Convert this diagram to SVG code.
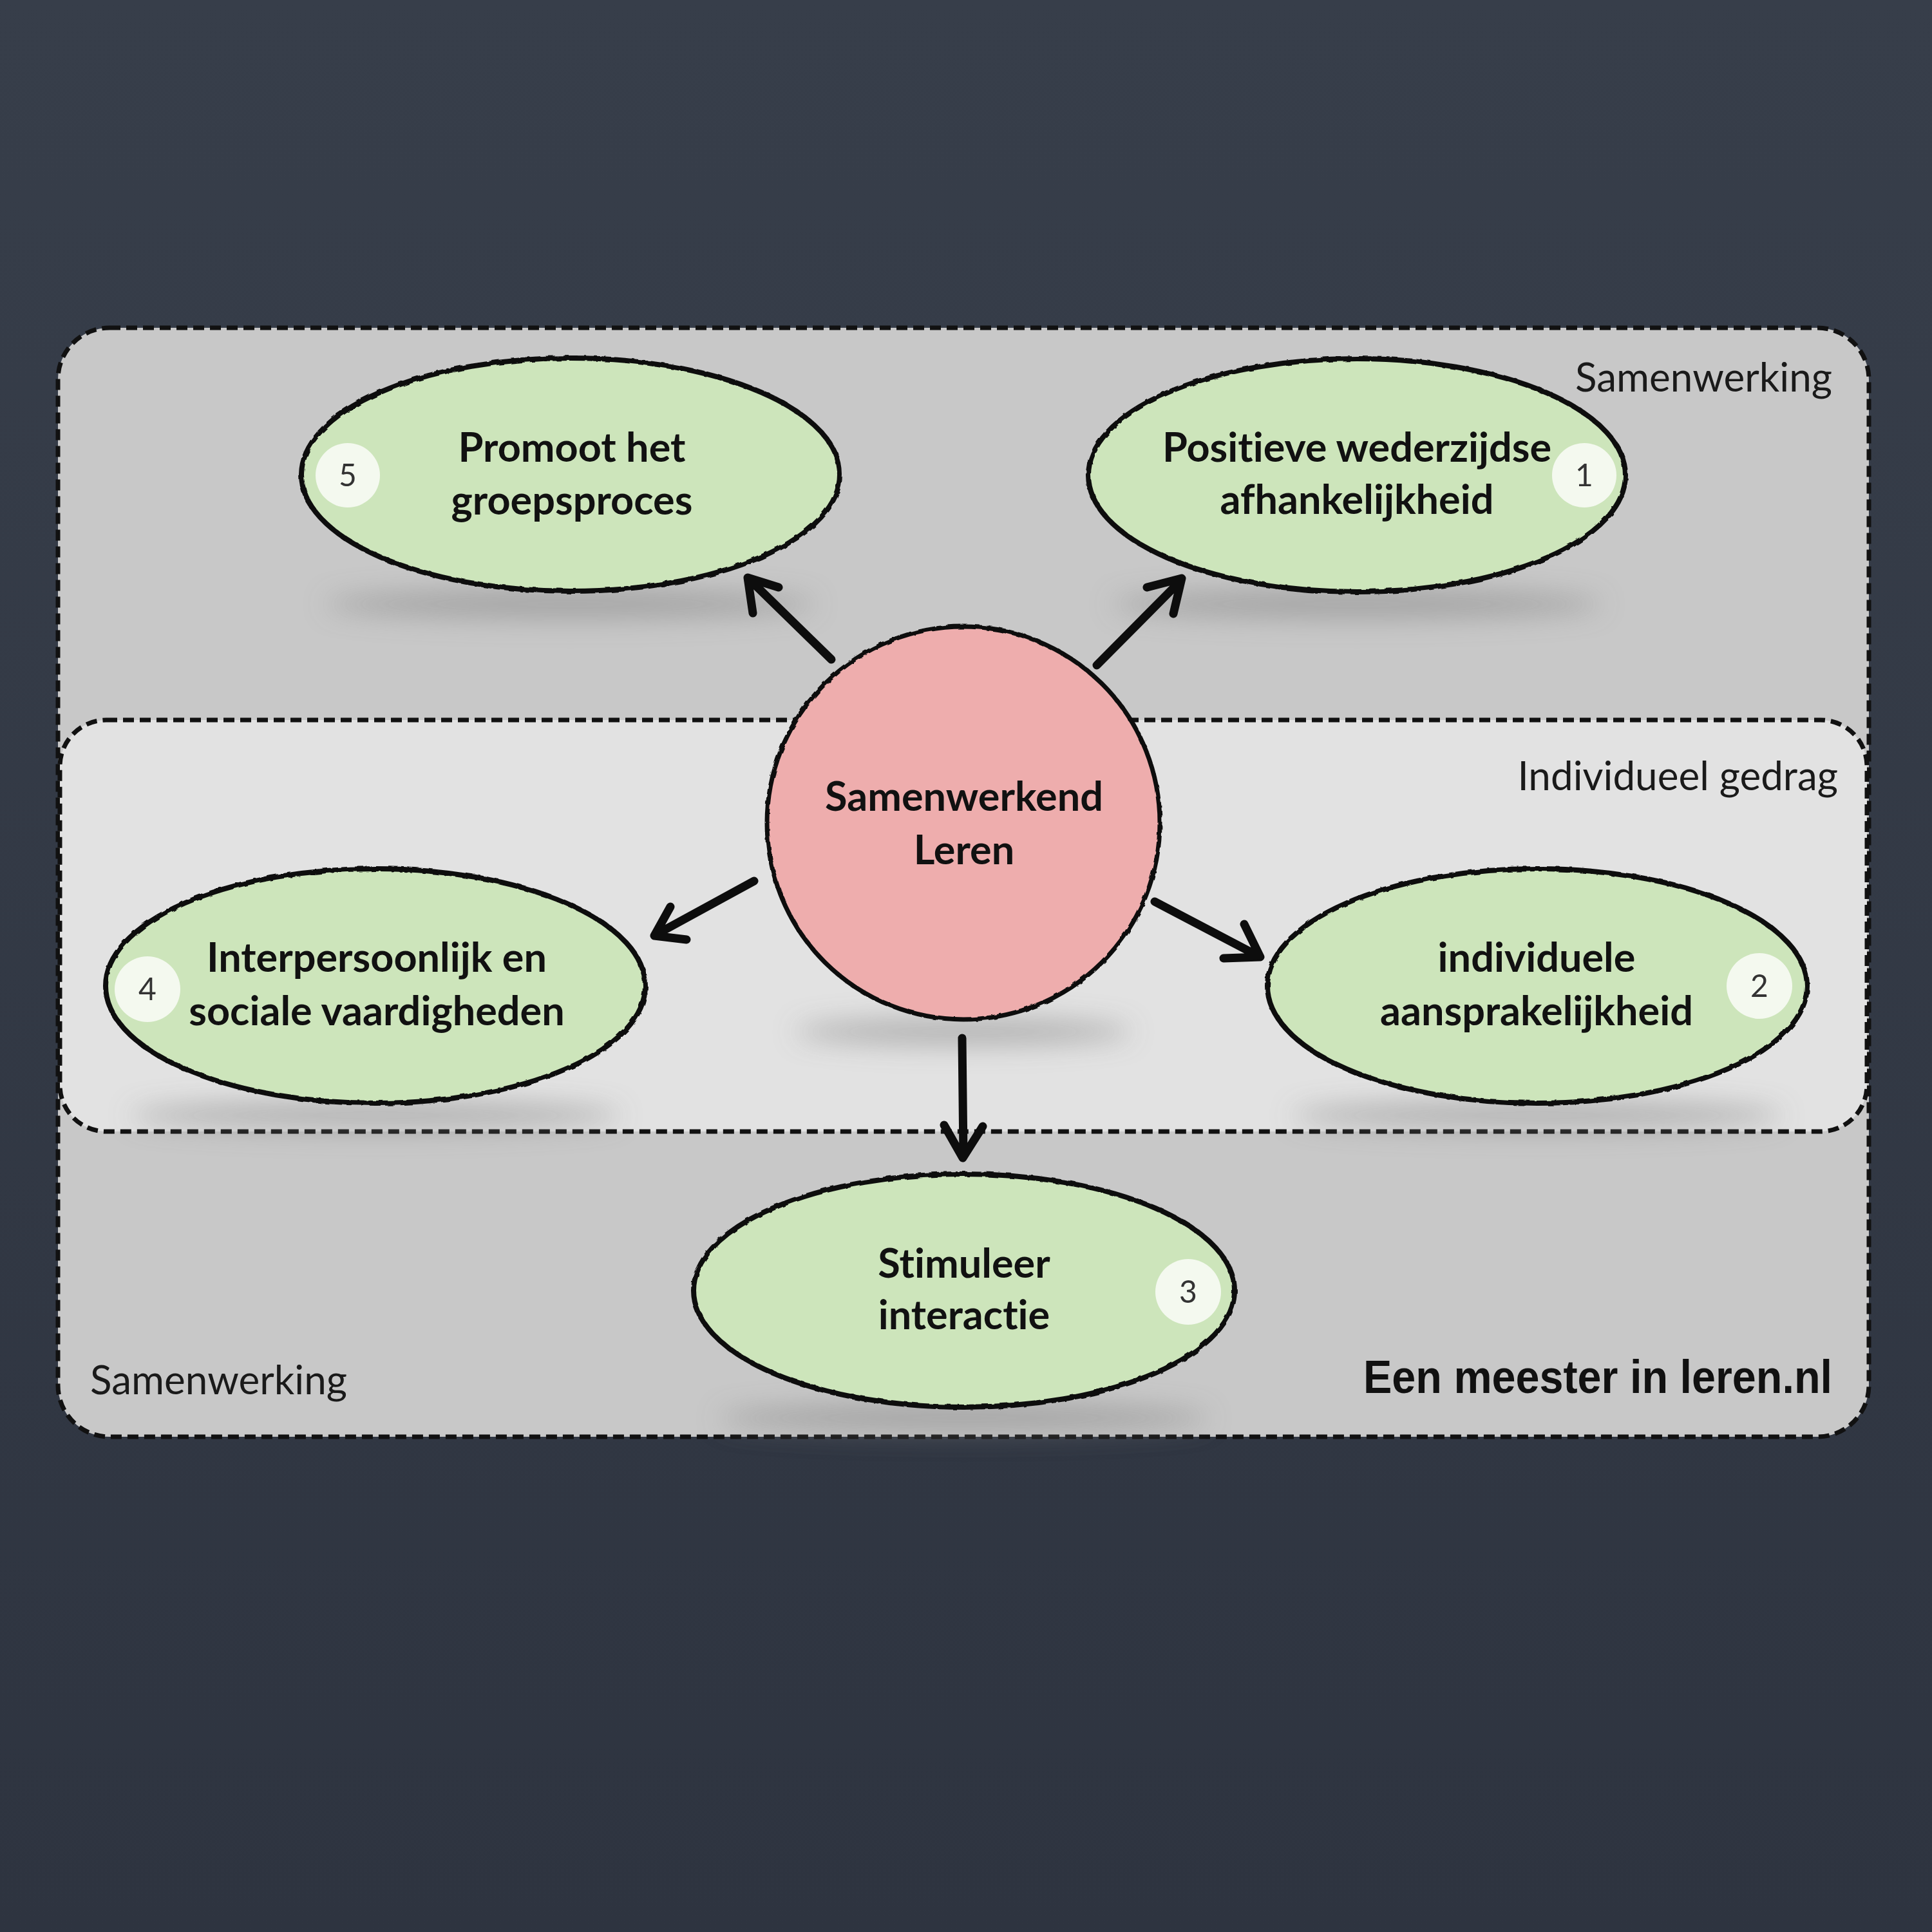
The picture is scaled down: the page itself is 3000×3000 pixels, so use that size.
<svg xmlns="http://www.w3.org/2000/svg" width="3000" height="3000" viewBox="0 0 3000 3000">
<defs>
<linearGradient id="bg" x1="0" y1="0" x2="0" y2="1">
<stop offset="0" stop-color="#373e4a"/>
<stop offset="1" stop-color="#2e3440"/>
</linearGradient>
<filter id="blur" x="-50%" y="-300%" width="200%" height="700%">
<feGaussianBlur stdDeviation="20"/>
</filter>
<filter id="rough" x="-5%" y="-5%" width="110%" height="110%">
<feTurbulence type="fractalNoise" baseFrequency="0.08" numOctaves="2" seed="3" result="n"/>
<feDisplacementMap in="SourceGraphic" in2="n" scale="4"/>
</filter>
<style>
text{font-variant-ligatures:none;font-feature-settings:"liga" 0,"dlig" 0}
.panel{stroke:#111;stroke-width:7;stroke-dasharray:17 9}
.node{fill:#cde5bb;stroke:#111;stroke-width:8}
.center{fill:#eeadad;stroke:#111;stroke-width:7}
.shadow{fill:#808080;opacity:0.5}
.badge{fill:#f4f9ef}
.num{font-family:Lato,"Noto Sans",sans-serif;font-size:48px;fill:#333;text-anchor:middle}
.lbl{font-family:Lato,"Noto Sans",sans-serif;font-weight:700;font-size:63px;fill:#111;text-anchor:middle}
.area{font-family:Lato,"Noto Sans",sans-serif;font-size:62px;fill:#1a1a1a}
.brand{font-family:"Liberation Sans",sans-serif;font-weight:700;font-size:72px;fill:#111}
.conn{fill:none;stroke:#0d0d0d;stroke-width:13;stroke-linecap:round;stroke-linejoin:round}
</style>
</defs>
<rect width="3000" height="3000" fill="url(#bg)"/>
<g id="panel-samenwerking">
<rect class="panel" x="90" y="509" width="2812" height="1722" rx="80" ry="80" fill="#c8c8c8"/>
</g>
<g id="panel-individueel">
<rect class="panel" x="93" y="1118" width="2806" height="639" rx="72" ry="72" fill="#e2e2e2"/>
</g>
<g id="shadows" filter="url(#blur)">
<ellipse class="shadow" cx="886" cy="938" rx="380" ry="22"/>
<ellipse class="shadow" cx="2107" cy="938" rx="380" ry="22"/>
<ellipse class="shadow" cx="583" cy="1732" rx="380" ry="22"/>
<ellipse class="shadow" cx="2387" cy="1732" rx="380" ry="22"/>
<ellipse class="shadow" cx="1497" cy="2202" rx="380" ry="22"/>
<ellipse class="shadow" cx="1496" cy="1602" rx="260" ry="20"/>
</g>
<g id="connectors">
<path class="conn" d="M1291,1024 L1163,899 M1209,912 L1161,897 L1169,952"/>
<path class="conn" d="M1703,1033 L1830,905 M1781,912 L1835,898 L1822,953"/>
<path class="conn" d="M1171,1368 L1019,1451 M1041,1408 L1016,1453 L1066,1459"/>
<path class="conn" d="M1793,1400 L1953,1484 M1932,1435 L1957,1486 L1900,1488"/>
<path class="conn" d="M1494,1612 L1496,1795 M1466,1747 L1495,1798 L1526,1749"/>
</g>
<g id="node-5">
<ellipse class="node" cx="886" cy="737" rx="418" ry="181" filter="url(#rough)"/>
<circle class="badge" cx="540" cy="738" r="50"/>
<text class="num" x="540" y="755">5</text>
<text class="lbl" x="888" y="717">Promoot het</text>
<text class="lbl" x="888" y="799">groepsproces</text>
</g>
<g id="node-1">
<ellipse class="node" cx="2107" cy="738" rx="417" ry="181" filter="url(#rough)"/>
<circle class="badge" cx="2460" cy="738" r="50"/>
<text class="num" x="2460" y="755">1</text>
<text class="lbl" x="2107" y="717">Positieve wederzijdse</text>
<text class="lbl" x="2107" y="798">afhankelijkheid</text>
</g>
<g id="node-4">
<ellipse class="node" cx="583" cy="1531" rx="419" ry="182" filter="url(#rough)"/>
<circle class="badge" cx="229" cy="1536" r="51"/>
<text class="num" x="229" y="1553">4</text>
<text class="lbl" x="585" y="1509">Interpersoonlijk en</text>
<text class="lbl" x="585" y="1592">sociale vaardigheden</text>
</g>
<g id="node-2">
<ellipse class="node" cx="2387" cy="1531" rx="419" ry="182" filter="url(#rough)"/>
<circle class="badge" cx="2732" cy="1531" r="51"/>
<text class="num" x="2732" y="1548">2</text>
<text class="lbl" x="2386" y="1509">individuele</text>
<text class="lbl" x="2386" y="1592">aansprakelijkheid</text>
</g>
<g id="node-3">
<ellipse class="node" cx="1497" cy="2004" rx="420" ry="181" filter="url(#rough)"/>
<circle class="badge" cx="1845" cy="2006" r="51"/>
<text class="num" x="1845" y="2023">3</text>
<text class="lbl" x="1497" y="1984">Stimuleer</text>
<text class="lbl" x="1497" y="2064">interactie</text>
</g>
<g id="node-center">
<circle class="center" cx="1496" cy="1278" r="305" filter="url(#rough)"/>
<text class="lbl" x="1497" y="1259">Samenwerkend</text>
<text class="lbl" x="1497" y="1342">Leren</text>
</g>
<g id="labels">
<text class="area" x="2845" y="608" text-anchor="end">Samenwerking</text>
<text class="area" x="2854" y="1227" text-anchor="end">Individueel gedrag</text>
<text class="area" x="140" y="2165">Samenwerking</text>
<text class="brand" x="2117" y="2163" textLength="728" lengthAdjust="spacingAndGlyphs">Een meester in leren.nl</text>
</g>
</svg>
